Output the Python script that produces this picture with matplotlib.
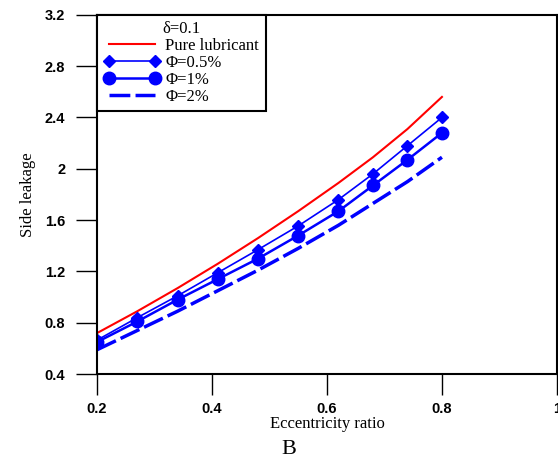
import matplotlib.pyplot as plt
import numpy as np

ecc = [0.2, 0.27, 0.34, 0.41, 0.48, 0.55, 0.62, 0.68, 0.74, 0.8]
pure = [0.72, 0.89, 1.07, 1.26, 1.46, 1.67, 1.89, 2.09, 2.31, 2.56]
phi_05 = [0.665, 0.84, 1.01, 1.19, 1.37, 1.555, 1.76, 1.96, 2.18, 2.40]
phi_1 = [0.65, 0.81, 0.98, 1.14, 1.30, 1.48, 1.67, 1.87, 2.07, 2.28]
phi_2 = [0.59, 0.74, 0.89, 1.05, 1.21, 1.38, 1.56, 1.73, 1.90, 2.09]

fig = plt.figure(figsize=(5.58, 4.63), dpi=100)
ax = fig.add_axes([0.174, 0.192, 0.824, 0.776])

ax.plot(ecc, pure, color='red', lw=1.5, label='Pure lubricant')
ax.plot(ecc, phi_05, color='blue', lw=1.2, marker='D', ms=6, label='Φ=0.5%')
ax.plot(ecc, phi_1, color='blue', lw=1.8, marker='o', ms=9, label='Φ=1%')
ax.plot(ecc, phi_2, color='blue', lw=2.5, ls=(0, (6, 1.5)), label='Φ=2%')

ax.set_xlim(0.2, 1.0)
ax.set_ylim(0.4, 3.2)
ax.set_xticks([0.2, 0.4, 0.6, 0.8, 1.0])
ax.set_xticklabels(['0.2', '0.4', '0.6', '0.8', '1'])
ax.set_yticks([0.4, 0.8, 1.2, 1.6, 2.0, 2.4, 2.8, 3.2])
ax.set_yticklabels(['0.4', '0.8', '1.2', '1.6', '2', '2.4', '2.8', '3.2'])
ax.tick_params(direction='out', length=15, width=1, labelsize=10.5, pad=5)
ax.tick_params(axis='y', pad=8)
for lab in ax.get_xticklabels() + ax.get_yticklabels():
    lab.set_fontweight('bold')
    lab.set_family('Liberation Sans')
for s in ax.spines.values():
    s.set_linewidth(1.5)

ax.set_xlabel('Eccentricity ratio', family='Liberation Serif', fontsize=12, labelpad=0)
ax.set_ylabel('Side leakage', family='Liberation Serif', fontsize=12, labelpad=6)
fig.text(0.517, 0.02, 'B', family='Liberation Serif', fontsize=16, ha='center')

leg = ax.legend(loc='upper left', title='δ=0.1', numpoints=2, fancybox=False,
                edgecolor='black', framealpha=1, borderaxespad=0,
                prop={'family': 'Liberation Serif', 'size': 12},
                handlelength=3.4, handletextpad=0.3, labelspacing=0.05,
                borderpad=0.4)
leg.get_title().set_family('Liberation Serif')
leg.get_title().set_fontsize(12)
leg.get_frame().set_linewidth(1.5)

fig.savefig('out.png', dpi=100)
